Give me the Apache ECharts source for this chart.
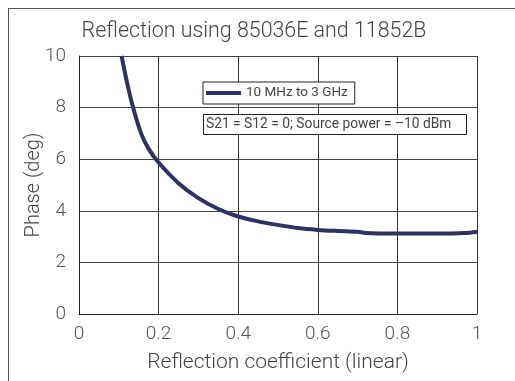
<!DOCTYPE html>
<html>
<head>
<meta charset="utf-8">
<script src="https://cdn.jsdelivr.net/npm/echarts@6/dist/echarts.min.js"></script>
<style>
  html, body { margin: 0; padding: 0; background: #fff; }
  #chart { width: 515px; height: 381px; }
</style>
</head>
<body>
<div id="chart"></div>
<script>
  // 读图得到的数据
  var reflCoef = [0.107, 0.121, 0.136, 0.156, 0.175, 0.2, 0.25, 0.3, 0.35, 0.4, 0.45, 0.5, 0.55, 0.6, 0.65, 0.7, 0.72, 0.8, 0.9, 0.97, 1.0];
  var phaseDeg = [10, 8.95, 8, 7, 6.4, 5.87, 5.07, 4.49, 4.07, 3.78, 3.59, 3.45, 3.33, 3.26, 3.22, 3.19, 3.14, 3.12, 3.12, 3.14, 3.19];
  var seriesName = '10 MHz to 3 GHz';
  var noteText = 'S21 = S12 = 0; Source power = \u201310 dBm';

  var points = reflCoef.map(function (x, i) { return [x, phaseDeg[i]]; });
  var font = 'Roboto, "Open Sans", sans-serif';

  var myChart = echarts.init(document.getElementById('chart'));
  var option = {
    backgroundColor: '#fff',
    title: [
      {
        text: 'Reflection using 85036E and 11852B',
        left: 249, top: 16, textAlign: 'center',
        textStyle: { color: '#444', fontFamily: font, fontWeight: 300, fontSize: 21.4 }
      },
      {
        text: noteText,
        left: 203, top: 114,
        padding: [4, 15, 3, 3],
        borderColor: '#222', borderWidth: 1, backgroundColor: '#fff',
        textStyle: { color: '#444', fontFamily: font, fontWeight: 400, fontSize: 13.8 }
      }
    ],
    legend: {
      left: 203, top: 82,
      padding: [4, 7, 4, 3],
      borderColor: '#222', borderWidth: 1, backgroundColor: '#fff',
      itemWidth: 35, itemHeight: 4, itemGap: 6,
      icon: 'rect',
      textStyle: { color: '#444', fontFamily: font, fontSize: 13.5 },
      data: [seriesName]
    },
    grid: { left: 79, right: 38, top: 56, bottom: 67 },
    xAxis: {
      type: 'value', min: 0, max: 1, interval: 0.2,
      name: 'Reflection coefficient (linear)',
      nameLocation: 'middle', nameGap: 38,
      nameTextStyle: { color: '#444', fontFamily: font, fontWeight: 300, fontSize: 21 },
      axisLine: { lineStyle: { color: '#222', width: 1 } },
      axisTick: { show: false },
      axisLabel: { color: '#555', fontFamily: font, fontWeight: 300, fontSize: 19, margin: 11 },
      splitLine: { show: true, lineStyle: { color: '#333', width: 1 } }
    },
    yAxis: {
      type: 'value', min: 0, max: 10, interval: 2,
      name: 'Phase (deg)',
      nameLocation: 'middle', nameGap: 35, nameRotate: 90,
      nameMoveOverlap: false,
      nameTextStyle: { color: '#444', fontFamily: font, fontWeight: 300, fontSize: 20 },
      axisLine: { show: true, lineStyle: { color: '#222', width: 1 } },
      axisTick: { show: false },
      axisLabel: { color: '#555', fontFamily: font, fontWeight: 300, fontSize: 19, margin: 13 },
      splitLine: { show: true, lineStyle: { color: '#444', width: 1 } }
    },
    graphic: [
      // 外框（上、左）
      { type: 'line', shape: { x1: 8, y1: 8.5, x2: 515, y2: 8.5 }, style: { stroke: '#555', lineWidth: 1 } },
      { type: 'line', shape: { x1: 8.5, y1: 8, x2: 8.5, y2: 381 }, style: { stroke: '#555', lineWidth: 1 } }
    ],
    series: [
      {
        name: seriesName,
        type: 'line',
        data: points,
        smooth: 0.3,
        symbol: 'none',
        itemStyle: { color: '#2e3163' },
        lineStyle: { color: '#2e3163', width: 4 }
      }
    ]
  };
  myChart.setOption(option);
</script>
</body>
</html>
